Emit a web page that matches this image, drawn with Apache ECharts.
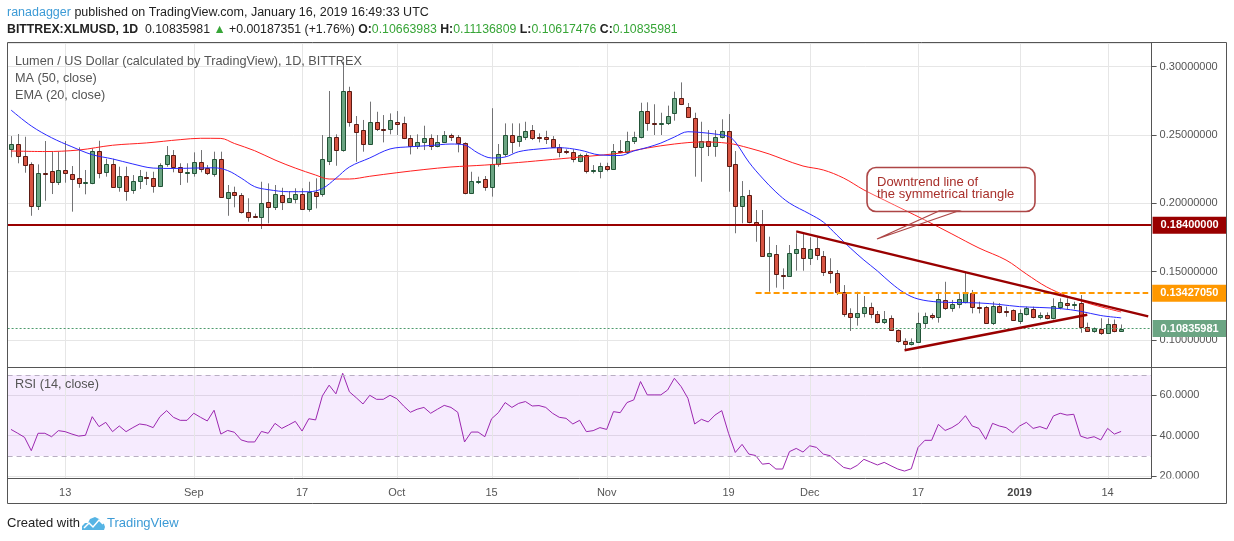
<!DOCTYPE html>
<html>
<head>
<meta charset="utf-8">
<title>XLMUSD 1D</title>
<script src="https://cdn.jsdelivr.net/npm/echarts@6/dist/echarts.min.js"></script>
<style>
html, body { margin: 0; padding: 0; background: #fff; }
#chart { width: 1234px; height: 541px; }
</style>
</head>
<body>
<div id="chart"></div>
<script>
// ---- data ----
var startDay = Date.UTC(2018, 7, 5);
var dayCount = 169; // Aug 5 2018 .. Jan 20 2019 (last 4 days empty, right margin)

var tickDates = ['2018-08-13', '2018-09-01', '2018-09-17', '2018-10-01', '2018-10-15', '2018-11-01',
  '2018-11-19', '2018-12-01', '2018-12-17', '2019-01-01', '2019-01-14'];
var tickLabels = ['13', 'Sep', '17', 'Oct', '15', 'Nov', '19', 'Dec', '17', '2019', '14'];

var opens = [
  .2400,.2434,.2344,.2285,.1978,.2219,.2234,.2158,.2241,.2212,
  .2183,.2149,.2146,.2380,.2231,.2288,.2117,.2200,.2095,.2161,
  .2190,.2183,.2124,.2285,.2351,.2263,.2227,.2219,.2304,.2256,
  .2212,.2322,.2037,.2080,.2061,.1939,.1910,.1902,.2012,.1975,
  .2061,.2012,.2031,.2066,.1958,.2080,.2066,.2310,.2485,.2390,
  .2822,.2578,.2536,.2432,.2593,.2546,.2544,.2593,.2585,.2475,
  .2419,.2451,.2475,.2419,.2451,.2500,.2485,.2439,.2073,.2163,
  .2175,.2117,.2285,.2358,.2500,.2458,.2487,.2536,.2482,.2483,
  .2468,.2410,.2383,.2373,.2307,.2351,.2234,.2234,.2271,.2253,
  .2385,.2373,.2458,.2483,.2678,.2588,.2578,.2585,.2659,.2768,
  .2707,.2621,.2410,.2456,.2422,.2483,.2529,.2288,.1983,.2061,
  .1866,.1841,.1617,.1627,.1478,.1470,.1634,.1671,.1598,.1671,
  .1615,.1505,.1488,.1349,.1195,.1170,.1200,.1244,.1188,.1129,
  .1159,.1071,.0990,.0969,.0983,.1122,.1183,.1166,.1293,.1232,
  .1261,.1280,.1346,.1241,.1239,.1122,.1249,.1212,.1220,.1141,
  .1188,.1224,.1166,.1183,.1159,.1244,.1268,.1259,.1268,.1097,
  .1068,.1083,.1049,.1117,.10663983
];
var highs = [
  .2492,.2507,.2487,.2300,.2285,.2456,.2378,.2378,.2456,.2273,
  .2410,.2244,.2402,.2458,.2326,.2326,.2268,.2268,.2207,.2244,
  .2231,.2231,.2293,.2419,.2390,.2293,.2293,.2373,.2390,.2280,
  .2378,.2378,.2134,.2122,.2075,.2037,.1925,.2158,.2146,.2134,
  .2114,.2090,.2110,.2110,.2158,.2183,.2500,.2822,.2505,.3036,
  .2853,.2639,.2610,.2744,.2670,.2646,.2658,.2675,.2634,.2500,
  .2505,.2568,.2505,.2500,.2529,.2510,.2500,.2446,.2231,.2195,
  .2200,.2696,.2434,.2585,.2585,.2585,.2597,.2573,.2512,.2531,
  .2492,.2434,.2395,.2395,.2363,.2366,.2280,.2297,.2297,.2434,
  .2463,.2524,.2524,.2736,.2739,.2725,.2663,.2715,.2817,.2885,
  .2734,.2663,.2597,.2536,.2536,.2615,.2653,.2383,.2163,.2098,
  .1951,.1951,.1756,.1695,.1524,.1695,.1781,.1785,.1751,.1751,
  .1651,.1598,.1512,.1402,.1232,.1353,.1322,.1273,.1212,.1212,
  .1180,.1078,.1012,.1012,.1200,.1200,.1195,.1346,.1426,.1293,
  .1342,.1500,.1366,.1280,.1249,.1280,.1270,.1244,.1224,.1224,
  .1244,.1244,.1202,.1202,.1305,.1305,.1305,.1280,.1329,.1127,
  .1092,.1159,.1159,.1150,.11136809
];
var lows = [
  .2337,.2293,.2224,.1909,.1951,.2019,.2068,.2134,.2151,.1939,
  .2114,.2066,.2140,.2183,.2195,.2115,.2085,.2019,.2070,.2105,
  .2134,.2078,.2119,.2268,.2227,.2134,.2151,.2195,.2227,.2207,
  .2195,.2040,.1909,.1971,.1925,.1866,.1895,.1812,.1854,.1951,
  .1951,.2010,.2000,.1955,.1939,.1963,.2049,.2280,.2275,.2378,
  .2561,.2304,.2378,.2427,.2529,.2446,.2505,.2500,.2470,.2358,
  .2397,.2390,.2390,.2410,.2446,.2456,.2373,.2066,.2068,.2141,
  .2092,.2049,.2268,.2341,.2366,.2414,.2463,.2463,.2446,.2434,
  .2407,.2337,.2360,.2300,.2300,.2219,.2219,.2183,.2234,.2249,
  .2366,.2366,.2434,.2475,.2531,.2500,.2500,.2573,.2605,.2719,
  .2624,.2195,.2158,.2346,.2341,.2475,.2085,.1781,.1854,.1854,
  .1719,.1609,.1353,.1383,.1371,.1468,.1507,.1507,.1549,.1585,
  .1468,.1415,.1329,.1170,.1066,.1105,.1166,.1159,.1122,.1117,
  .1068,.0980,.0927,.0960,.0980,.1088,.1151,.1127,.1220,.1207,
  .1232,.1268,.1195,.1195,.1117,.1110,.1195,.1170,.1139,.1117,
  .1180,.1158,.1151,.1151,.1151,.1224,.1224,.1224,.1053,.1061,
  .1053,.1037,.1046,.1056,.10617476
];
var closes = [
  .2434,.2344,.2278,.1978,.2219,.2215,.2158,.2241,.2219,.2180,
  .2146,.2154,.2380,.2224,.2288,.2117,.2200,.2092,.2163,.2200,
  .2185,.2129,.2278,.2351,.2268,.2227,.2231,.2304,.2249,.2219,
  .2322,.2044,.2080,.2058,.1934,.1902,.1907,.2000,.1971,.2066,
  .2007,.2037,.2066,.1958,.2080,.2056,.2322,.2485,.2390,.2822,
  .2593,.2524,.2432,.2593,.2544,.2541,.2607,.2578,.2475,.2419,
  .2451,.2475,.2419,.2451,.2500,.2483,.2439,.2073,.2163,.2166,
  .2117,.2285,.2358,.2500,.2451,.2492,.2529,.2480,.2478,.2468,
  .2410,.2378,.2373,.2322,.2351,.2234,.2246,.2271,.2253,.2385,
  .2373,.2458,.2483,.2678,.2585,.2583,.2585,.2641,.2768,.2724,
  .2629,.2410,.2456,.2419,.2483,.2529,.2275,.1983,.2054,.1866,
  .1839,.1617,.1634,.1481,.1473,.1634,.1663,.1598,.1666,.1622,
  .1500,.1488,.1349,.1188,.1170,.1200,.1244,.1188,.1134,.1156,
  .1071,.0990,.0969,.0985,.1122,.1178,.1166,.1298,.1232,.1263,
  .1298,.1353,.1244,.1236,.1122,.1249,.1207,.1207,.1146,.1200,
  .1232,.1166,.1183,.1159,.1249,.1276,.1256,.1261,.1093,.1068,
  .1086,.1049,.1117,.1065,.10835981
];

// MA(50) and EMA(20) as read at sample days [dayIndex, value]
var maPoints = [
  [0,.2383],[5,.2379],[10,.2390],[15,.2425],[20,.2442],[25,.2466],[28,.2476],[31,.2475],[33,.2438],
  [36,.2385],[39,.2317],[42,.2258],[45,.2207],[47,.2178],[50,.2178],[53,.2198],[57,.2224],[61,.2247],
  [65,.2266],[70,.2280],[75,.2299],[80,.2321],[85,.2343],[90,.2368],[94,.2405],[98,.2434],[102,.2449],
  [106,.2439],[109,.2405],[112,.2361],[114,.2324],[117,.2273],[120,.2244],[123,.2185],[126,.2098],
  [129,.2024],[132,.1951],[135,.1878],[139,.1776],[143,.1673],[147,.1585],[150,.1483],[153,.1388],
  [156,.1322],[159,.1271],[162,.1230],[164,.1205]
];
var emaPoints = [
  [0,.2683],[3,.2566],[6,.2480],[9,.2414],[12,.2356],[15,.2325],[18,.2288],[21,.2258],[24,.2255],
  [27,.2258],[30,.2260],[32,.2240],[34,.2185],[36,.2122],[38,.2100],[41,.2085],[44,.2085],[46,.2108],
  [48,.2183],[50,.2266],[53,.2332],[56,.2398],[59,.2414],[62,.2423],[65,.2434],[67,.2427],[69,.2368],
  [71,.2332],[73,.2339],[75,.2378],[78,.2398],[81,.2407],[84,.2390],[87,.2354],[90,.2350],[92,.2383],
  [94,.2409],[96,.2441],[98,.2485],[100,.2524],[102,.2518],[104,.2507],[106,.2489],[107,.2449],
  [109,.2302],[111,.2185],[113,.2083],[115,.2002],[118,.1922],[120,.1863],[122,.1768],[124,.1673],
  [126,.1585],[128,.1505],[130,.1417],[132,.1344],[134,.1300],[137,.1278],[140,.1274],[143,.1271],
  [146,.1260],[149,.1244],[152,.1238],[155,.1230],[158,.1210],[161,.1179],[164,.1162]
];

var rsiValues = [
  43.1,41.2,39.2,32.6,41.2,41.2,39.5,42.5,42.0,40.8,
  39.8,40.2,49.4,44.5,46.6,42.0,44.8,42.0,44.0,45.8,
  45.3,44.0,49.4,52.4,49.1,47.6,47.6,51.1,49.1,47.3,
  52.6,40.8,42.6,41.7,37.9,36.9,36.9,42.1,41.2,46.1,
  43.6,45.3,47.1,42.3,48.4,47.8,59.7,65.0,60.7,70.9,
  61.7,58.8,55.7,60.0,58.0,58.0,60.0,58.3,54.7,51.6,
  53.1,54.0,51.1,53.1,55.0,54.0,51.6,36.9,41.8,41.8,
  39.5,48.4,51.4,56.4,54.0,56.0,56.9,54.7,54.9,54.0,
  51.1,49.1,48.6,45.8,47.6,42.0,42.5,44.0,43.1,51.9,
  51.4,56.4,57.7,66.8,60.2,60.2,60.2,62.6,68.4,64.3,
  58.5,45.8,48.1,46.8,50.2,52.4,41.2,31.7,35.7,30.9,
  30.2,25.9,26.3,23.5,23.5,32.1,33.7,31.9,35.0,34.2,
  30.9,30.1,27.1,24.3,23.5,25.3,28.3,26.9,25.5,26.8,
  25.1,23.5,22.5,23.6,34.2,37.7,37.7,45.6,42.6,44.0,
  46.1,49.9,44.8,43.6,38.2,46.1,44.8,44.0,41.5,44.8,
  46.6,43.6,44.5,43.3,49.8,51.1,50.2,50.6,39.8,38.7,
  39.5,37.9,43.6,40.8,42.1
];

var levelHigh = 0.18400000;
var levelMid = 0.13427050;
var lastPrice = 0.10835981;
var levelMidStart = 110;                     // Nov 23
var downtrend = [[116, 0.1795], [168, 0.1173]];
var uptrend = [[132, 0.0925], [159, 0.1184]];

// ---- build ----
var FONT = '"Liberation Sans", Arial, sans-serif';
var dates = [];
for (var k = 0; k < dayCount; k++) {
  dates.push(new Date(startDay + k * 86400000).toISOString().slice(0, 10));
}
var candleData = opens.map(function (o, i) { return [i, o, closes[i], lows[i], highs[i]]; });
var mainTicks = tickDates.map(function (d) { return [dates.indexOf(d), 0.2]; });
var rsiTicks = tickDates.map(function (d) { return [dates.indexOf(d), 40]; });

function renderCandle(params, api) {
  var i = api.value(0), o = api.value(1), c = api.value(2), l = api.value(3), h = api.value(4);
  var pO = api.coord([i, o]), pC = api.coord([i, c]);
  var pL = api.coord([i, l]), pH = api.coord([i, h]);
  var cx = Math.round(pO[0]);
  var up = c >= o;
  var top = Math.round(Math.min(pO[1], pC[1]));
  var bot = Math.round(Math.max(pO[1], pC[1]));
  return {
    type: 'group',
    children: [
      { type: 'line', shape: { x1: cx + 0.5, y1: pH[1], x2: cx + 0.5, y2: pL[1] },
        style: { stroke: '#737375', lineWidth: 1 } },
      { type: 'rect', shape: { x: cx - 1.5, y: top + 0.5, width: 4, height: Math.max(bot - top, 1) },
        style: { fill: up ? '#6ba583' : '#d75442', stroke: up ? '#225437' : '#5b1a13', lineWidth: 1 } }
    ]
  };
}

function renderVGrid(params, api) {
  var x = Math.round(api.coord([api.value(0), api.value(1)])[0]) + 0.5;
  var cs = params.coordSys;
  return { type: 'line', shape: { x1: x, y1: cs.y, x2: x, y2: cs.y + cs.height },
    style: { stroke: '#e6e6e6', lineWidth: 1 } };
}

function boxLabel(text, bg, dist) {
  return { show: true, position: 'end', distance: dist, formatter: text, backgroundColor: bg,
    color: '#fff', fontSize: 11, fontWeight: 'bold', fontFamily: FONT, padding: [3, 8, 3, 8] };
}

var chart = echarts.init(document.getElementById('chart'));

chart.setOption({
  animation: false,
  backgroundColor: '#fff',
  grid: [
    { left: 7.6, top: 43, width: 1144, height: 324 },
    { left: 7.6, top: 367, width: 1144, height: 111 }
  ],
  xAxis: [
    { type: 'category', gridIndex: 0, data: dates, boundaryGap: true,
      axisLine: { show: false }, axisTick: { show: false }, axisLabel: { show: false }, splitLine: { show: false } },
    { type: 'category', gridIndex: 1, data: dates, boundaryGap: true,
      axisLine: { show: false }, axisTick: { show: false }, splitLine: { show: false },
      axisLabel: {
        color: '#555', fontSize: 11, fontFamily: FONT, margin: 9,
        interval: function (idx, val) { return tickDates.indexOf(val) >= 0; },
        formatter: function (val) {
          var lab = tickLabels[tickDates.indexOf(val)];
          return lab === '2019' ? '{y|2019}' : lab;
        },
        rich: { y: { fontWeight: 'bold', fontSize: 11, fontFamily: FONT, color: '#444' } }
      } }
  ],
  yAxis: [
    { type: 'value', gridIndex: 0, position: 'right', min: 0.08024, max: 0.31732, splitNumber: 5,
      axisLine: { show: false },
      axisTick: { show: true, length: 5, lineStyle: { color: '#555' } },
      axisLabel: { color: '#555', fontSize: 11, fontFamily: FONT, margin: 8,
        showMinLabel: false, showMaxLabel: false,
        formatter: function (v) { return v.toFixed(8); } },
      splitLine: { lineStyle: { color: '#e6e6e6' } } },
    { type: 'value', gridIndex: 1, position: 'right', min: 19.06, max: 74.0, splitNumber: 3,
      axisLine: { show: false },
      axisTick: { show: true, length: 5, lineStyle: { color: '#555' } },
      axisLabel: { color: '#555', fontSize: 11, fontFamily: FONT, margin: 8,
        showMinLabel: false, showMaxLabel: false,
        formatter: function (v) { return v.toFixed(4); } },
      splitLine: { lineStyle: { color: '#e6e6e6' } } }
  ],
  series: [
    { type: 'custom', name: 'vgrid', xAxisIndex: 0, yAxisIndex: 0, z: 1, silent: true,
      renderItem: renderVGrid, data: mainTicks, encode: { x: 0, y: 1 } },
    { type: 'custom', name: 'vgridRsi', xAxisIndex: 1, yAxisIndex: 1, z: 1, silent: true,
      renderItem: renderVGrid, data: rsiTicks, encode: { x: 0, y: 1 } },
    { type: 'custom', name: 'XLMUSD', xAxisIndex: 0, yAxisIndex: 0, z: 3, silent: true,
      renderItem: renderCandle, data: candleData, encode: { x: 0, y: [1, 2, 3, 4] } },
    { type: 'line', name: 'MA 50', xAxisIndex: 0, yAxisIndex: 0, z: 4, data: maPoints,
      showSymbol: false, smooth: 0.35, lineStyle: { color: '#ff2020', width: 1 }, silent: true },
    { type: 'line', name: 'EMA 20', xAxisIndex: 0, yAxisIndex: 0, z: 4, data: emaPoints,
      showSymbol: false, smooth: 0.35, lineStyle: { color: '#2a2aff', width: 1 }, silent: true,
      markLine: {
        silent: true, symbol: ['none', 'none'], animation: false, precision: 8, label: { show: false },
        data: [
          { yAxis: levelHigh, lineStyle: { color: '#990000', width: 2, type: 'solid' },
            label: boxLabel('0.18400000', '#990000', 1) },
          [ { coord: [dates[levelMidStart], levelMid], lineStyle: { color: '#ff9800', width: 2, type: [6, 3] },
              label: boxLabel('0.13427050', '#ff9800', 4) },
            { coord: [dates[dayCount - 1], levelMid] } ],
          { yAxis: lastPrice, lineStyle: { color: '#4e9b6d', width: 1, type: [2, 2] },
            label: boxLabel('0.10835981', '#6ba583', 1) },
          [ { coord: [dates[downtrend[0][0]], downtrend[0][1]], lineStyle: { color: '#990000', width: 2.5, type: 'solid' },
              label: { show: false } },
            { coord: [dates[downtrend[1][0]], downtrend[1][1]] } ],
          [ { coord: [dates[uptrend[0][0]], uptrend[0][1]], lineStyle: { color: '#990000', width: 2.5, type: 'solid' },
              label: { show: false } },
            { coord: [dates[uptrend[1][0]], uptrend[1][1]] } ]
        ]
      } },
    { type: 'line', name: 'RSI 14', xAxisIndex: 1, yAxisIndex: 1, z: 4, data: rsiValues,
      showSymbol: false, lineStyle: { color: '#9c27b0', width: 1 }, silent: true,
      markArea: { silent: true, itemStyle: { color: 'rgba(150,30,240,0.09)' },
        data: [[{ yAxis: 30 }, { yAxis: 70 }]] },
      markLine: { silent: true, symbol: ['none', 'none'], label: { show: false }, precision: 4,
        lineStyle: { color: '#b8aec2', type: [5, 4], width: 1 },
        data: [{ yAxis: 70 }, { yAxis: 30 }] } }
  ],
  graphic: [
    // frame
    { type: 'rect', z: 20, silent: true, shape: { x: 7.5, y: 42.5, width: 1219, height: 461 },
      style: { fill: 'none', stroke: '#555', lineWidth: 1 } },
    { type: 'line', z: 20, silent: true, shape: { x1: 1151.5, y1: 42.5, x2: 1151.5, y2: 478.5 },
      style: { stroke: '#555', lineWidth: 1 } },
    { type: 'line', z: 20, silent: true, shape: { x1: 7.5, y1: 367.5, x2: 1226.5, y2: 367.5 },
      style: { stroke: '#555', lineWidth: 1 } },
    { type: 'line', z: 20, silent: true, shape: { x1: 7.5, y1: 478.5, x2: 1151.5, y2: 478.5 },
      style: { stroke: '#555', lineWidth: 1 } },
    { type: 'rect', z: 19, silent: true, shape: { x: 1152, y: 478.5, width: 74, height: 24 },
      style: { fill: '#fff' } },
    // header
    { type: 'text', z: 20, x: 7, y: 13, style: {
        text: '{u|ranadagger} published on TradingView.com, January 16, 2019 16:49:33 UTC',
        fontSize: 12.5, fontFamily: FONT, fill: '#222', verticalAlign: 'middle',
        rich: { u: { fill: '#3d9bd6', fontSize: 12.5, fontFamily: FONT } } } },
    { type: 'text', z: 20, x: 7, y: 30, style: {
        text: '{b|BITTREX:XLMUSD, 1D}  0.10835981 {g|\u25B2} +0.00187351 (+1.76%) {b|O:}{g|0.10663983} {b|H:}{g|0.11136809} {b|L:}{g|0.10617476} {b|C:}{g|0.10835981}',
        fontSize: 12.3, fontFamily: FONT, fill: '#222', verticalAlign: 'middle',
        rich: {
          b: { fontWeight: 'bold', fill: '#222', fontSize: 12.3, fontFamily: FONT },
          g: { fill: '#37a537', fontSize: 12.3, fontFamily: FONT }
        } } },
    // legends
    { type: 'text', z: 20, x: 15, y: 61, style: { text: 'Lumen / US Dollar (calculated by TradingView), 1D, BITTREX',
        fontSize: 12.7, fontFamily: FONT, fill: '#555', verticalAlign: 'middle' } },
    { type: 'text', z: 20, x: 15, y: 78, style: { text: 'MA (50, close)',
        fontSize: 12.7, fontFamily: FONT, fill: '#555', verticalAlign: 'middle' } },
    { type: 'text', z: 20, x: 15, y: 95, style: { text: 'EMA (20, close)',
        fontSize: 12.7, fontFamily: FONT, fill: '#555', verticalAlign: 'middle' } },
    { type: 'text', z: 20, x: 15, y: 384, style: { text: 'RSI (14, close)',
        fontSize: 12.7, fontFamily: FONT, fill: '#555', verticalAlign: 'middle' } },
    // callout
    { type: 'rect', z: 15, silent: true, shape: { x: 867, y: 167.5, width: 168, height: 44, r: 9 },
      style: { fill: 'rgba(255,255,255,0.25)', stroke: '#ad4646', lineWidth: 1.6 } },
    { type: 'polygon', z: 15, silent: true, shape: { points: [[939, 211], [877, 239], [958, 211]] },
      style: { fill: 'rgba(255,255,255,0.25)', stroke: '#ad4646', lineWidth: 1.3 } },
    { type: 'text', z: 16, x: 877, y: 177, style: { text: 'Downtrend line of\nthe symmetrical triangle',
        fontSize: 13, fontFamily: FONT, fill: '#a8302b', lineHeight: 11.6, verticalAlign: 'top' } },
    // footer
    { type: 'text', z: 20, x: 7, y: 523, style: { text: 'Created with',
        fontSize: 13, fontFamily: FONT, fill: '#222', verticalAlign: 'middle' } },
    { type: 'polygon', z: 20, silent: true, shape: { points: [[82, 530], [82, 526], [85, 523], [88, 523], [90, 519],
        [95, 517], [99, 519], [101, 522], [104, 524], [105, 527], [104, 530]] },
      style: { fill: '#56b4e4' } },
    { type: 'polyline', z: 21, silent: true, shape: { points: [[84, 528], [89, 523], [93, 527], [99, 520], [103, 524]] },
      style: { stroke: '#fff', lineWidth: 1.5, fill: null } },
    { type: 'text', z: 20, x: 107, y: 523, style: { text: 'TradingView',
        fontSize: 13, fontFamily: FONT, fill: '#3d9bd6', verticalAlign: 'middle' } }
  ]
});
</script>
</body>
</html>
